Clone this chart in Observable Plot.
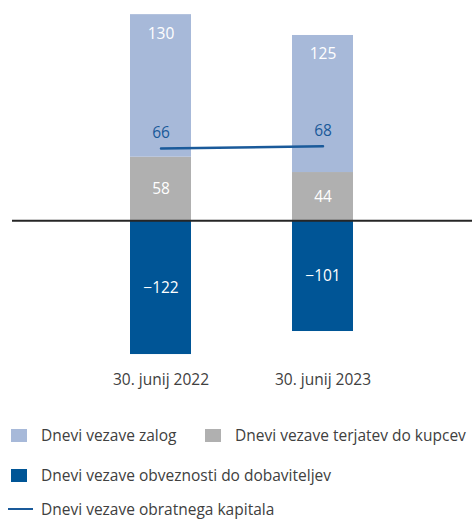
<!DOCTYPE html>
<html>
<head>
<meta charset="utf-8">
<script src="https://cdn.jsdelivr.net/npm/d3@7"></script>
<script src="https://cdn.jsdelivr.net/npm/@observablehq/plot@0.6"></script>
<style>
  body { margin: 0; background: #fff; font-family: "Open Sans", sans-serif; }
  #chart { width: 472px; }
  .legend { position: relative; height: 123px; color: #404040; font-size: 15.5px; }
  .item { position: absolute; display: flex; align-items: center; white-space: nowrap; line-height: 18px; }
  .sw { width: 16px; height: 13px; margin-right: 14px; }
  .ln { width: 25px; height: 2.5px; margin-right: 8px; }
</style>
</head>
<body>
<div id="chart"></div>
<script>
const dates = ["30. junij 2022", "30. junij 2023"];
const zalog = [130, 125];
const terjatve = [58, 44];
const obveznosti = [-122, -101];
const kapital = [66, 68];
const seriesNames = ["Dnevi vezave zalog", "Dnevi vezave terjatev do kupcev", "Dnevi vezave obveznosti do dobaviteljev", "Dnevi vezave obratnega kapitala"];
const colors = ["#A7B9D9", "#B0B0B0", "#005596", "#1A5A9A"];

const rows = [];
dates.forEach((d, i) => {
  rows.push({date: d, series: seriesNames[1], value: terjatve[i], labelY: terjatve[i] / 2});
  rows.push({date: d, series: seriesNames[0], value: zalog[i], labelY: terjatve[i] + zalog[i]});
  rows.push({date: d, series: seriesNames[2], value: obveznosti[i], labelY: obveznosti[i] / 2});
});
const topRows = rows.filter(r => r.series === seriesNames[0]);
const midRows = rows.filter(r => r.series !== seriesNames[0]);
const lineRows = dates.map((d, i) => ({date: d, value: kapital[i]}));
const fmt = d => d.value < 0 ? "\u2212" + Math.abs(d.value) : String(d.value);

const chart = Plot.plot({
  width: 472,
  height: 398,
  marginLeft: 12,
  marginRight: 0,
  marginTop: 1,
  marginBottom: 33,
  style: {fontFamily: "Open Sans, sans-serif"},
  x: {domain: dates, paddingInner: 0.623, paddingOuter: 0.73, label: null},
  y: {domain: [-132, 200], axis: null},
  color: {domain: seriesNames.slice(0, 3), range: colors.slice(0, 3)},
  marks: [
    Plot.barY(rows, {x: "date", y: "value", fill: "series", z: "series", order: [seriesNames[1], seriesNames[0], seriesNames[2]]}),
    Plot.ruleY([0], {stroke: "#262626", strokeWidth: 2}),
    Plot.text(midRows, {x: "date", y: "labelY", text: fmt, fill: "#fff", fontSize: 15.5}),
    Plot.text(topRows, {x: "date", y: "labelY", dy: 19, text: fmt, fill: "#fff", fontSize: 15.5}),
    Plot.line(lineRows, {x: "date", y: "value", stroke: colors[3], strokeWidth: 2.5}),
    Plot.text(lineRows, {x: "date", y: "value", dy: -15, text: d => String(d.value), fill: colors[3], fontSize: 15.5}),
    Plot.axisX({tickSize: 0, tickPadding: 8, fontSize: 15.5, color: "#404040", label: null})
  ]
});
document.getElementById("chart").appendChild(chart);

const legend = document.createElement("div");
legend.className = "legend";
const items = [
  {name: seriesNames[0], color: colors[0], left: 11, top: 28, type: "sw"},
  {name: seriesNames[1], color: colors[1], left: 205, top: 28, type: "sw"},
  {name: seriesNames[2], color: colors[2], left: 11, top: 68, type: "sw"},
  {name: seriesNames[3], color: colors[3], left: 8, top: 102, type: "ln"}
];
items.forEach(it => {
  const el = document.createElement("div");
  el.className = "item";
  el.style.left = it.left + "px";
  el.style.top = it.top + "px";
  const sw = document.createElement("span");
  sw.className = it.type;
  sw.style.background = it.color;
  el.appendChild(sw);
  const t = document.createElement("span");
  t.textContent = it.name;
  el.appendChild(t);
  legend.appendChild(el);
});
document.body.appendChild(legend);
</script>
</body>
</html>
